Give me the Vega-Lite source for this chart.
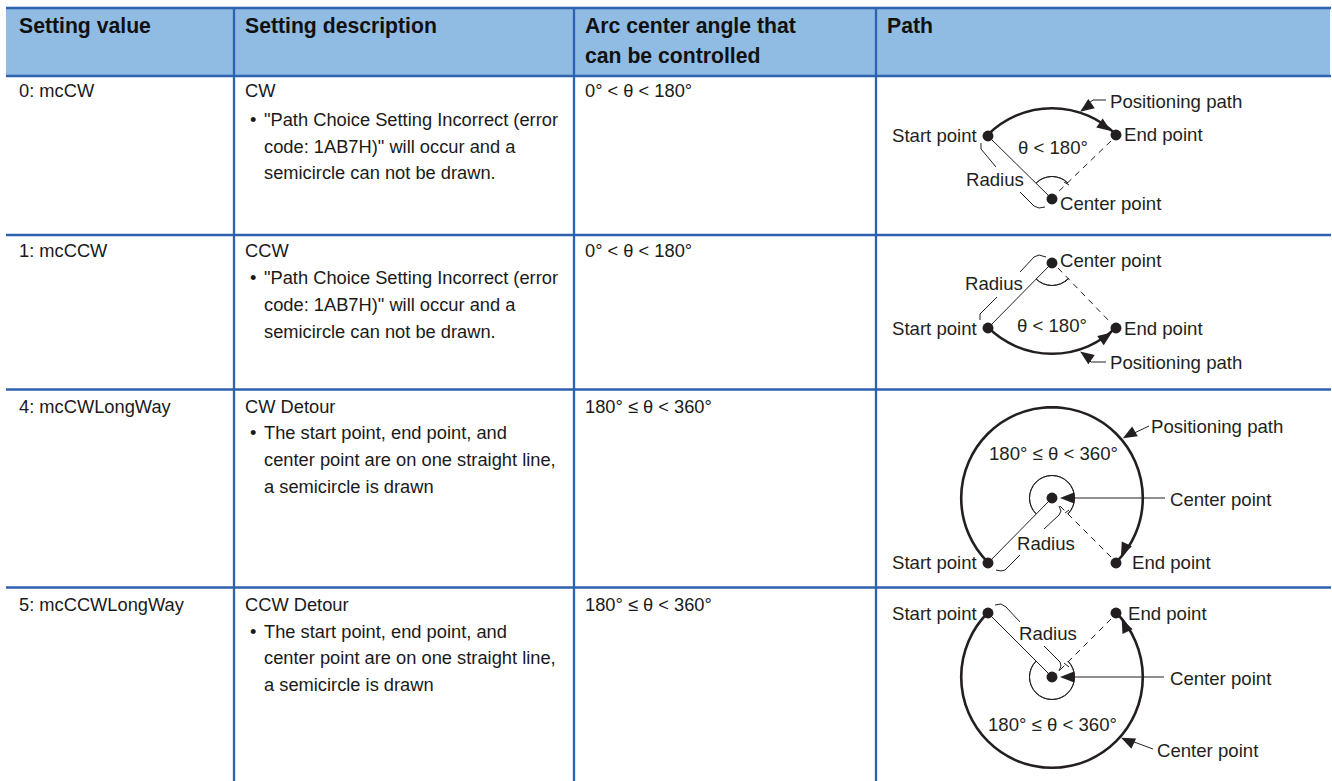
{
"$schema":"https://vega.github.io/schema/vega-lite/v6.json",
"width":1332,"height":781,"padding":0,"autosize":"none","background":"white",
"config":{"view":{"stroke":null}},
"encoding":{
"x":{"field":"x","type":"quantitative","scale":{"domain":[0,1332],"nice":false,"zero":false},"axis":null},
"y":{"field":"y","type":"quantitative","scale":{"domain":[0,781],"reverse":true,"nice":false,"zero":false},"axis":null}
},
"layer":[
{"data":{"values":[{"x":6,"y":8,"x2":1330,"y2":76}]},
 "mark":{"type":"rect","fill":"#90BBE2"},
 "encoding":{"x2":{"field":"x2"},"y2":{"field":"y2"}}},
{"data":{"values":[
{"x":6,"y":8,"x2":1331,"y2":8},{"x":6,"y":76,"x2":1331,"y2":76},{"x":6,"y":235,"x2":1331,"y2":235},{"x":6,"y":389.5,"x2":1331,"y2":389.5},{"x":6,"y":587.5,"x2":1331,"y2":587.5},
{"x":234,"y":8,"x2":234,"y2":781},{"x":574,"y":8,"x2":574,"y2":781},{"x":876,"y":8,"x2":876,"y2":781}]},
 "mark":{"type":"rule","stroke":"#2D62B1","strokeWidth":2.3},
 "encoding":{"x2":{"field":"x2"},"y2":{"field":"y2"}}},
{"data":{"values":[
{"x":988,"y":136,"x2":1052,"y2":199},{"x":988,"y":328,"x2":1052,"y2":263},{"x":988,"y":563,"x2":1052,"y2":498},{"x":988,"y":613,"x2":1052,"y2":677},
{"x":1106,"y":100,"x2":1093,"y2":100},{"x":1093,"y":100,"x2":1085,"y2":106},
{"x":1106,"y":362,"x2":1091,"y2":362},{"x":1091,"y":362,"x2":1085,"y2":356},
{"x":1165,"y":498,"x2":1066,"y2":498},{"x":1164,"y":677,"x2":1066,"y2":677},
{"x":1149,"y":426,"x2":1128,"y2":436},{"x":1153,"y":749,"x2":1126,"y2":739},
{"x":1064,"y":182,"x2":1069,"y2":185},{"x":1065,"y":282,"x2":1069,"y2":278},{"x":1065,"y":513,"x2":1069,"y2":510},{"x":1064,"y":663,"x2":1069,"y2":667}]},
 "mark":{"type":"rule","stroke":"#231F20","strokeWidth":1},
 "encoding":{"x2":{"field":"x2"},"y2":{"field":"y2"}}},
{"data":{"values":[
{"x":1111,"y":141,"x2":1056,"y2":194},{"x":1058,"y":268,"x2":1111,"y2":323},{"x":1111,"y":557,"x2":1060,"y2":506},{"x":1111,"y":619,"x2":1060,"y2":670}]},
 "mark":{"type":"rule","stroke":"#231F20","strokeWidth":1,"strokeDash":[6,5]},
 "encoding":{"x2":{"field":"x2"},"y2":{"field":"y2"}}},
{"data":{"values":[
{"id":"a1","o":1,"x":981,"y":143},{"id":"a1","o":2,"x":981,"y":149},{"id":"a1","o":3,"x":996,"y":167},
{"id":"a2","o":1,"x":1020,"y":192},{"id":"a2","o":2,"x":1034,"y":206},{"id":"a2","o":3,"x":1039,"y":208},{"id":"a2","o":4,"x":1045,"y":207},
{"id":"b1","o":1,"x":980,"y":320},{"id":"b1","o":2,"x":980,"y":314},{"id":"b1","o":3,"x":997,"y":297},
{"id":"b2","o":1,"x":1020,"y":272},{"id":"b2","o":2,"x":1034,"y":257},{"id":"b2","o":3,"x":1039,"y":255},{"id":"b2","o":4,"x":1046,"y":257},
{"id":"c1","o":1,"x":996,"y":570},{"id":"c1","o":2,"x":1001,"y":571},{"id":"c1","o":3,"x":1005,"y":570},{"id":"c1","o":4,"x":1020,"y":555},
{"id":"c2","o":1,"x":1044,"y":529},{"id":"c2","o":2,"x":1059,"y":515},{"id":"c2","o":3,"x":1061,"y":511},{"id":"c2","o":4,"x":1059,"y":506},
{"id":"d1","o":1,"x":995,"y":605},{"id":"d1","o":2,"x":1001,"y":604},{"id":"d1","o":3,"x":1006,"y":607},{"id":"d1","o":4,"x":1020,"y":622},
{"id":"d2","o":1,"x":1044,"y":646},{"id":"d2","o":2,"x":1060,"y":662},{"id":"d2","o":3,"x":1061,"y":666},{"id":"d2","o":4,"x":1059,"y":671}]},
 "mark":{"type":"line","stroke":"#231F20","strokeWidth":1},
 "encoding":{"detail":{"field":"id"},"order":{"field":"o","type":"quantitative"}}},
{"data":{"values":[
{"x":1052,"y":199,"a":-0.785,"b":0.785},{"x":1052,"y":263,"a":2.356,"b":3.927},{"x":1052,"y":498,"a":-2.356,"b":2.356},{"x":1052,"y":677,"a":0.785,"b":5.498}]},
 "mark":{"type":"arc","fill":null,"stroke":"#231F20","strokeWidth":2.6,"radius":90.8,"radius2":90.8},
 "encoding":{"theta":{"field":"a","type":"quantitative","scale":null},"theta2":{"field":"b"}}},
{"data":{"values":[
{"x":1052,"y":199,"a":-0.785,"b":0.785},{"x":1052,"y":263,"a":2.356,"b":3.927},{"x":1052,"y":498,"a":-2.356,"b":2.356},{"x":1052,"y":677,"a":0.785,"b":5.498}]},
 "mark":{"type":"arc","fill":null,"stroke":"#231F20","strokeWidth":1,"radius":22.5,"radius2":22.5},
 "encoding":{"theta":{"field":"a","type":"quantitative","scale":null},"theta2":{"field":"b"}}},
{"data":{"values":[
{"x":988,"y":136},{"x":1116,"y":135},{"x":1052,"y":199},
{"x":988,"y":328},{"x":1116,"y":328},{"x":1052,"y":263},
{"x":988,"y":563},{"x":1116,"y":563},{"x":1052,"y":498},
{"x":988,"y":613},{"x":1116,"y":613},{"x":1052,"y":677}]},
 "mark":{"type":"point","filled":true,"fill":"#231F20","stroke":null,"opacity":1,"size":120,"shape":"circle"}},
{"data":{"values":[
{"x":1105.2,"y":127,"r":125},{"x":1085.8,"y":107.7,"r":235},{"x":1106.2,"y":336.6,"r":55},{"x":1085.8,"y":355.6,"r":305},
{"x":1123.9,"y":550.3,"r":205},{"x":1128.9,"y":434.8,"r":240},{"x":1067,"y":498,"r":270},
{"x":1124.6,"y":625.3,"r":335},{"x":1067,"y":677,"r":270},{"x":1127.4,"y":740.6,"r":295}]},
 "mark":{"type":"point","filled":true,"fill":"#231F20","stroke":null,"opacity":1,"size":196,"shape":"M0,-1L0.8,1L-0.8,1Z"},
 "encoding":{"angle":{"field":"r","type":"quantitative","scale":null}}},
{"data":{"values":[
{"x":19,"y":27,"t":"Setting value"},{"x":245,"y":27,"t":"Setting description"},{"x":585,"y":27,"t":"Arc center angle that"},{"x":585,"y":57,"t":"can be controlled"},{"x":887,"y":27,"t":"Path"}]},
 "mark":{"type":"text","align":"left","baseline":"middle","font":"Liberation Sans","fontSize":21.2,"fontWeight":"bold","fill":"#111"},
 "encoding":{"text":{"field":"t"}}},
{"data":{"values":[
{"x":19,"y":92,"t":"0: mcCW"},{"x":245,"y":92,"t":"CW"},{"x":250,"y":121,"t":"•"},{"x":264,"y":121,"t":"\"Path Choice Setting Incorrect (error"},{"x":264,"y":148,"t":"code: 1AB7H)\" will occur and a"},{"x":264,"y":174,"t":"semicircle can not be drawn."},{"x":585,"y":92,"t":"0° < θ < 180°"},
{"x":19,"y":252,"t":"1: mcCCW"},{"x":245,"y":252,"t":"CCW"},{"x":250,"y":279,"t":"•"},{"x":264,"y":279,"t":"\"Path Choice Setting Incorrect (error"},{"x":264,"y":306,"t":"code: 1AB7H)\" will occur and a"},{"x":264,"y":333,"t":"semicircle can not be drawn."},{"x":585,"y":252,"t":"0° < θ < 180°"},
{"x":19,"y":408,"t":"4: mcCWLongWay"},{"x":245,"y":408,"t":"CW Detour"},{"x":250,"y":434,"t":"•"},{"x":264,"y":434,"t":"The start point, end point, and"},{"x":264,"y":461,"t":"center point are on one straight line,"},{"x":264,"y":488,"t":"a semicircle is drawn"},{"x":585,"y":408,"t":"180° ≤ θ < 360°"},
{"x":19,"y":606,"t":"5: mcCCWLongWay"},{"x":245,"y":606,"t":"CCW Detour"},{"x":250,"y":633,"t":"•"},{"x":264,"y":633,"t":"The start point, end point, and"},{"x":264,"y":659,"t":"center point are on one straight line,"},{"x":264,"y":686,"t":"a semicircle is drawn"},{"x":585,"y":606,"t":"180° ≤ θ < 360°"}]},
 "mark":{"type":"text","align":"left","baseline":"middle","font":"Liberation Sans","fontSize":18.3,"fill":"#1a1a1a"},
 "encoding":{"text":{"field":"t"}}},
{"data":{"values":[
{"x":892,"y":136,"t":"Start point"},{"x":1124,"y":135,"t":"End point"},{"x":1060,"y":204,"t":"Center point"},{"x":1110,"y":102,"t":"Positioning path"},{"x":966,"y":180,"t":"Radius"},{"x":1018,"y":148,"t":"θ < 180°"},
{"x":892,"y":329,"t":"Start point"},{"x":1124,"y":329,"t":"End point"},{"x":1060,"y":261,"t":"Center point"},{"x":1110,"y":363,"t":"Positioning path"},{"x":965,"y":284,"t":"Radius"},{"x":1017,"y":326,"t":"θ < 180°"},
{"x":892,"y":563,"t":"Start point"},{"x":1132,"y":563,"t":"End point"},{"x":1170,"y":500,"t":"Center point"},{"x":1151,"y":427,"t":"Positioning path"},{"x":1017,"y":544,"t":"Radius"},{"x":989,"y":454,"t":"180° ≤ θ < 360°"},
{"x":892,"y":614,"t":"Start point"},{"x":1128,"y":614,"t":"End point"},{"x":1170,"y":679,"t":"Center point"},{"x":1157,"y":751,"t":"Center point"},{"x":1019,"y":634,"t":"Radius"},{"x":988,"y":725,"t":"180° ≤ θ < 360°"}]},
 "mark":{"type":"text","align":"left","baseline":"middle","font":"Liberation Sans","fontSize":18.6,"fill":"#231F20"},
 "encoding":{"text":{"field":"t"}}}
]}
